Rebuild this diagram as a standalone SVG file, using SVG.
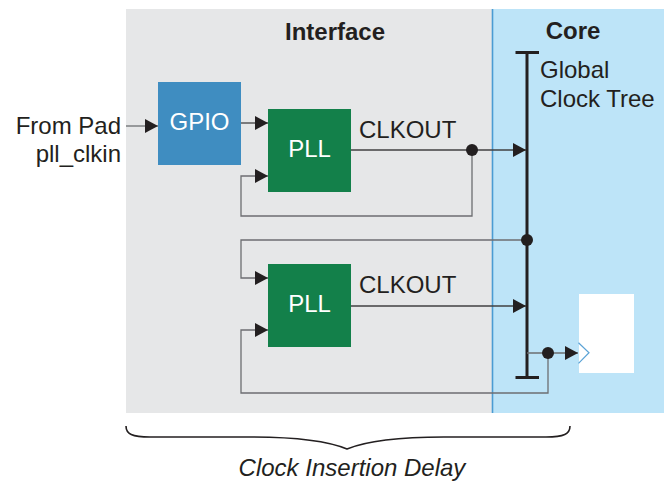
<svg xmlns="http://www.w3.org/2000/svg" width="664" height="481" viewBox="0 0 664 481">
<style>
  .t { font-family: "Liberation Sans", Arial, sans-serif; font-size: 24px; fill: #231f20; }
  .b { font-weight: bold; }
  .w { fill: #ffffff; }
  .c { fill: none; stroke: #414042; stroke-width: 1.3; }
  .fb { fill: none; stroke: #6d6e71; stroke-width: 1.3; }
  .dot { fill: #231f20; }
</style>
<defs>
  <marker id="arr" viewBox="0 0 13 14" refX="13" refY="7" markerWidth="13" markerHeight="14" markerUnits="userSpaceOnUse" orient="auto">
    <path d="M0,0 L13,7 L0,14 z" fill="#231f20"/>
  </marker>
</defs>

<g id="regions">
  <rect x="126" y="9" width="366.5" height="404" fill="#e6e7e8"/>
  <rect x="492.5" y="9" width="171.5" height="404" fill="#bde4f8"/>
  <line x1="492.5" y1="9" x2="492.5" y2="413" stroke="#4b9cd3" stroke-width="1.6"/>
  <text class="t b" x="335" y="40" text-anchor="middle">Interface</text>
  <text class="t b" x="573" y="39" text-anchor="middle">Core</text>
</g>

<g id="pad-label">
  <text class="t" x="121" y="134" text-anchor="end">From Pad</text>
  <text class="t" x="121" y="162" text-anchor="end">pll_clkin</text>
</g>

<g id="gpio">
  <rect x="158" y="82" width="83" height="83" fill="#3f8dc1"/>
  <text class="t w" x="199.5" y="130" text-anchor="middle">GPIO</text>
</g>

<g id="pll1">
  <rect x="268" y="109" width="83" height="83" fill="#13804a"/>
  <text class="t w" x="309.5" y="157" text-anchor="middle">PLL</text>
  <text class="t" x="359" y="138">CLKOUT</text>
</g>

<g id="pll2">
  <rect x="268" y="264" width="83" height="83" fill="#13804a"/>
  <text class="t w" x="309.5" y="312" text-anchor="middle">PLL</text>
  <text class="t" x="359" y="293">CLKOUT</text>
</g>

<g id="clock-tree">
  <line x1="527" y1="52" x2="527" y2="378" stroke="#231f20" stroke-width="3"/>
  <line x1="515.5" y1="52.5" x2="539" y2="52.5" stroke="#231f20" stroke-width="3"/>
  <line x1="515.5" y1="377.5" x2="539" y2="377.5" stroke="#231f20" stroke-width="3"/>
  <text class="t" x="540" y="78">Global</text>
  <text class="t" x="540" y="107">Clock Tree</text>
</g>

<g id="register">
  <rect x="579" y="294" width="55" height="79" fill="#ffffff"/>
  <polyline points="578.5,342.7 589,352.7 578.5,363.3" fill="none" stroke="#5ba3d6" stroke-width="1.2"/>
</g>

<g id="connectors">
  <line class="fb" x1="126" y1="126" x2="158" y2="126" marker-end="url(#arr)"/>
  <line class="c" x1="241" y1="123" x2="268" y2="123" marker-end="url(#arr)"/>
  <line class="c" x1="351" y1="150" x2="526" y2="150" marker-end="url(#arr)"/>
  <polyline class="fb" points="472,150 472,216 241,216 241,176 268,176" marker-end="url(#arr)"/>
  <circle class="dot" cx="472" cy="150" r="6"/>

  <polyline class="fb" points="527,240 241,240 241,278 268,278" marker-end="url(#arr)"/>
  <circle class="dot" cx="527" cy="240" r="6"/>

  <line class="c" x1="351" y1="306" x2="526" y2="306" marker-end="url(#arr)"/>

  <line class="fb" x1="527" y1="353" x2="578" y2="353" marker-end="url(#arr)"/>
  <polyline class="fb" points="548,353 548,393 241,393 241,330 268,330" marker-end="url(#arr)"/>
  <circle class="dot" cx="548" cy="353" r="6"/>
</g>

<g id="brace">
  <path d="M126,426 C126,434 132,437 150,437 L250,437 C300,437 330,442 347,449 C364,442 394,437 444,437 L546,437 C564,437 570,434 570,426" fill="none" stroke="#231f20" stroke-width="1.6"/>
  <text class="t" x="352" y="476" text-anchor="middle" font-style="italic">Clock Insertion Delay</text>
</g>
</svg>
